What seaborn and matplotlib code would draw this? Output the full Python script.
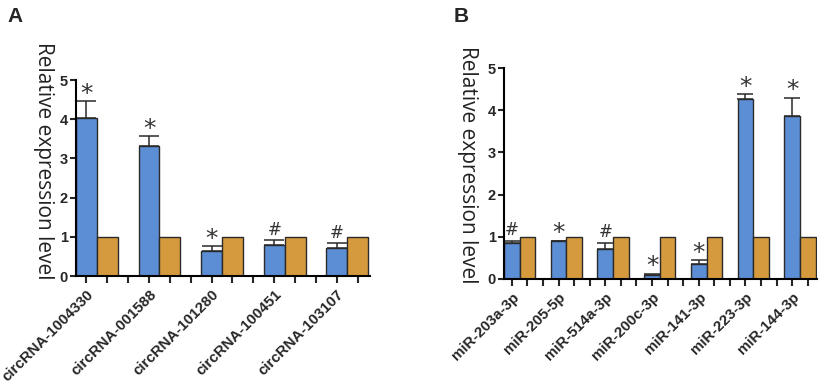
import matplotlib
matplotlib.use("Agg")
import matplotlib.pyplot as plt
import seaborn as sns
import pandas as pd
import numpy as np

# ---- data ----
circ_labels = ["circRNA-1004330", "circRNA-001588", "circRNA-101280", "circRNA-100451", "circRNA-103107"]
circ_treat = [4.04, 3.31, 0.63, 0.79, 0.72]
circ_err = [0.42, 0.27, 0.13, 0.12, 0.11]
circ_ctrl = [1.0, 1.0, 1.0, 1.0, 1.0]
circ_marks = ["*", "*", "*", "#", "#"]

mir_labels = ["miR-203a-3p", "miR-205-5p", "miR-514a-3p", "miR-200c-3p", "miR-141-3p", "miR-223-3p", "miR-144-3p"]
mir_treat = [0.86, 0.89, 0.71, 0.10, 0.36, 4.26, 3.86]
mir_err = [0.05, 0.02, 0.15, 0.03, 0.09, 0.12, 0.44]
mir_ctrl = [1.0, 1.0, 1.0, 1.0, 1.0, 1.0, 1.0]
mir_marks = ["#", "*", "#", "*", "*", "*", "*"]

y_ticks = [0, 1, 2, 3, 4, 5]

BLUE = "#5B8ED4"
ORANGE = "#D69A3E"
EDGE = "#2a2a2a"

sns.set_style("ticks")
plt.rcParams["font.family"] = ["Liberation Sans", "DejaVu Sans"]

fig = plt.figure(figsize=(8.24, 3.84), dpi=100)


def panel(rect, labels, treat, err, ctrl, marks, letter, letter_xy, ylab_xy, capsize):
    ax = fig.add_axes(rect)
    n = len(labels)
    df = pd.DataFrame({
        "gene": labels * 2,
        "group": ["treat"] * n + ["ctrl"] * n,
        "value": list(treat) + list(ctrl),
    })
    sns.barplot(data=df, x="gene", y="value", hue="group", order=labels,
                hue_order=["treat", "ctrl"], palette=[BLUE, ORANGE],
                width=2 / 3, dodge=True, errorbar=None, edgecolor=EDGE,
                linewidth=1.0, legend=False, ax=ax, saturation=1)
    blue_bars = ax.containers[0]
    xs = [b.get_x() + b.get_width() / 2 for b in blue_bars]
    tops = [b.get_height() for b in blue_bars]
    ax.errorbar(xs, tops, yerr=[np.zeros(n), err], fmt="none", ecolor=EDGE,
                elinewidth=1.1, capsize=capsize, capthick=1.1, zorder=1)
    for x, t, e, m in zip(xs, tops, err, marks):
        if m == "*":
            ax.annotate(m, (x, t + e), xytext=(0, -3.5), textcoords="offset points",
                        ha="center", va="bottom", fontsize=18, color="#333333",
                        family="DejaVu Sans")
        else:
            ax.annotate(m, (x, t + e), xytext=(0, 1), textcoords="offset points",
                        ha="center", va="bottom", fontsize=12, color="#333333",
                        family="DejaVu Sans")

    bw = 1 / 3
    major = [i - bw / 2 for i in range(n)]
    minor = []
    for i in range(n):
        minor.append(i + bw / 2)
        if i < n - 1:
            minor.append(i + 1.5 * bw)
    ax.set_xticks(major)
    ax.set_xticklabels(labels, rotation=45, ha="right", rotation_mode="anchor",
                       fontsize=10.8, fontweight="bold")
    ax.set_xticks(minor, minor=True)
    ax.set_xlim(-bw, n - 1 + bw + 0.03)
    ax.set_ylim(0, 5)
    ax.set_yticks(y_ticks)
    ax.set_yticklabels([str(v) for v in y_ticks], fontsize=10.5, fontweight="bold")
    ax.tick_params(axis="x", which="both", length=5, width=1.5, direction="out", pad=3)
    ax.tick_params(axis="y", length=4, width=1.5, direction="out", pad=2)
    for s in ["left", "bottom"]:
        ax.spines[s].set_linewidth(1.5)
        ax.spines[s].set_color("black")
    sns.despine(ax=ax)
    ax.set_xlabel("")
    ax.set_ylabel("Relative expression level", rotation=270, fontsize=15,
                  family=["Open Sans", "DejaVu Sans"], color="#222222",
                  ha="center", va="center")
    ax.yaxis.set_label_coords(*ylab_xy)
    fig.text(letter_xy[0], letter_xy[1], letter, fontsize=15, fontweight="bold",
             ha="left", va="top")
    return ax


panel([76 / 824, 108 / 384, 294 / 824, 196 / 384], circ_labels, circ_treat, circ_err,
      circ_ctrl, circ_marks, "A", (7 / 824, 1 - 7 / 384), (-0.11, 0.59), 7)
panel([504 / 824, 105 / 384, 313 / 824, 211 / 384], mir_labels, mir_treat, mir_err,
      mir_ctrl, mir_marks, "B", (454 / 824, 1 - 7 / 384), (-0.118, 0.54), 5.5)

fig.savefig("out.png", dpi=100)
